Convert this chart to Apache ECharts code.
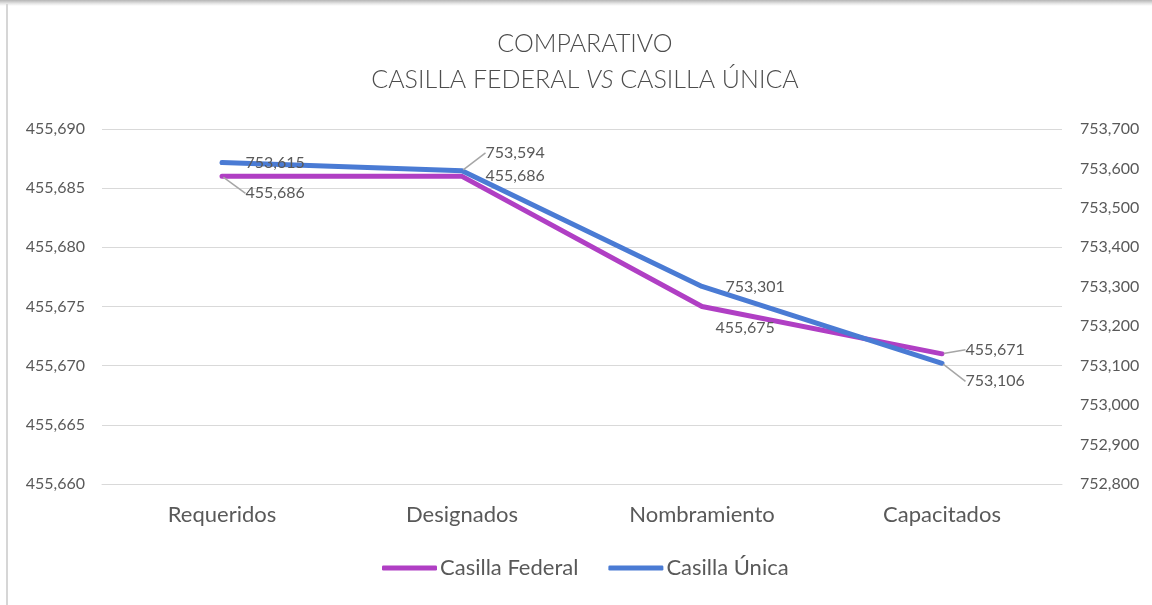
<!DOCTYPE html>
<html>
<head>
<meta charset="utf-8">
<script src="https://cdn.jsdelivr.net/npm/echarts@6/dist/echarts.min.js"></script>
<style>
  html, body { margin: 0; padding: 0; background: #fff; }
  #wrap { position: relative; width: 1152px; height: 605px; overflow: hidden; }
  #wrap::before { content: ''; position: absolute; left: 0; top: 0; right: 0; height: 6px;
    background: linear-gradient(#b5b5b5, #e6e6e6 60%, #fff); z-index: 2; }
  #wrap::after { content: ''; position: absolute; left: 6px; top: 4px; bottom: 0; width: 2px;
    background: #d6d6d6; z-index: 2; }
  #chart { width: 1152px; height: 605px; }
</style>
</head>
<body>
<div id="wrap"><div id="chart"></div></div>
<script>
const categories = ['Requeridos', 'Designados', 'Nombramiento', 'Capacitados']
const federal = [455686, 455686, 455675, 455671]
const unica = [753615, 753594, 753301, 753106]

// label nudges per point, copied by eye from the Excel callouts
const federalLabelDy = [17, 0, 21, -4]
const federalLabelDx = [0, 0, -10, 0]
const federalLeader = [true, false, false, true]
const unicaLabelDy = [0, -18, 0, 18]
const unicaLeader = [false, true, false, true]

const text = '#595959'
const grid = '#d9d9d9'
const font = 'Lato, "Open Sans", sans-serif'

const fmt = (v) => Number(v).toLocaleString('en-US')

function points(values, leader) {
  return values.map((v, i) => ({ value: v, labelLine: { show: leader[i] } }))
}

function labelStyle() {
  return {
    show: true,
    position: 'right',
    distance: 22,
    color: text,
    fontSize: 16,
    fontFamily: font,
    formatter: (p) => fmt(p.value)
  }
}

const chart = echarts.init(document.getElementById('chart'))

chart.setOption({
  backgroundColor: '#fff',
  textStyle: { fontFamily: font },
  title: {
    left: 580,
    top: 21,
    textAlign: 'center',
    text: '{a|COMPARATIVO}\n{a|CASILLA FEDERAL }{i|VS}{a| CASILLA ÚNICA}',
    textStyle: {
      rich: {
        a: { fontSize: 25, color: '#4d4d4d', fontFamily: font, fontWeight: 300, lineHeight: 36 },
        i: { fontSize: 25, color: '#4d4d4d', fontFamily: font, fontWeight: 300, fontStyle: 'italic', lineHeight: 36 }
      }
    }
  },
  legend: {
    bottom: 21,
    left: 377,
    icon: 'roundRect',
    itemWidth: 55,
    itemHeight: 5,
    itemGap: 30,
    textStyle: { color: text, fontSize: 22, fontFamily: font, padding: [0, 0, 0, -2] },
    data: ['Casilla Federal', 'Casilla Única']
  },
  grid: { left: 102, right: 90, top: 129, bottom: 121 },
  xAxis: {
    type: 'category',
    data: categories,
    axisTick: { show: false },
    axisLine: { lineStyle: { color: grid, width: 1 } },
    axisLabel: { color: text, fontSize: 22, margin: 20, fontFamily: font }
  },
  yAxis: [
    {
      type: 'value',
      min: 455660,
      max: 455690,
      interval: 5,
      axisLine: { show: false },
      axisTick: { show: false },
      axisLabel: { color: text, fontSize: 16, margin: 17, formatter: fmt, fontFamily: font },
      splitLine: { lineStyle: { color: grid, width: 1 } }
    },
    {
      type: 'value',
      min: 752800,
      max: 753700,
      interval: 100,
      axisLine: { show: false },
      axisTick: { show: false },
      axisLabel: { color: text, fontSize: 16, margin: 18, formatter: fmt, fontFamily: font },
      splitLine: { show: false }
    }
  ],
  series: [
    {
      name: 'Casilla Federal',
      type: 'line',
      yAxisIndex: 0,
      data: points(federal, federalLeader),
      color: '#b03fc4',
      symbol: 'circle',
      symbolSize: 3,
      lineStyle: { width: 5, cap: 'round', join: 'round' },
      label: labelStyle(),
      labelLine: { show: true, lineStyle: { color: '#a6a6a6', width: 1.5 } },
      labelLayout: (p) => ({ dy: federalLabelDy[p.dataIndex], dx: federalLabelDx[p.dataIndex] })
    },
    {
      name: 'Casilla Única',
      type: 'line',
      yAxisIndex: 1,
      data: points(unica, unicaLeader),
      color: '#4a7bd4',
      symbol: 'circle',
      symbolSize: 3,
      lineStyle: { width: 5, cap: 'round', join: 'round' },
      label: labelStyle(),
      labelLine: { show: true, lineStyle: { color: '#a6a6a6', width: 1.5 } },
      labelLayout: (p) => ({ dy: unicaLabelDy[p.dataIndex] })
    }
  ]
})
</script>
</body>
</html>
